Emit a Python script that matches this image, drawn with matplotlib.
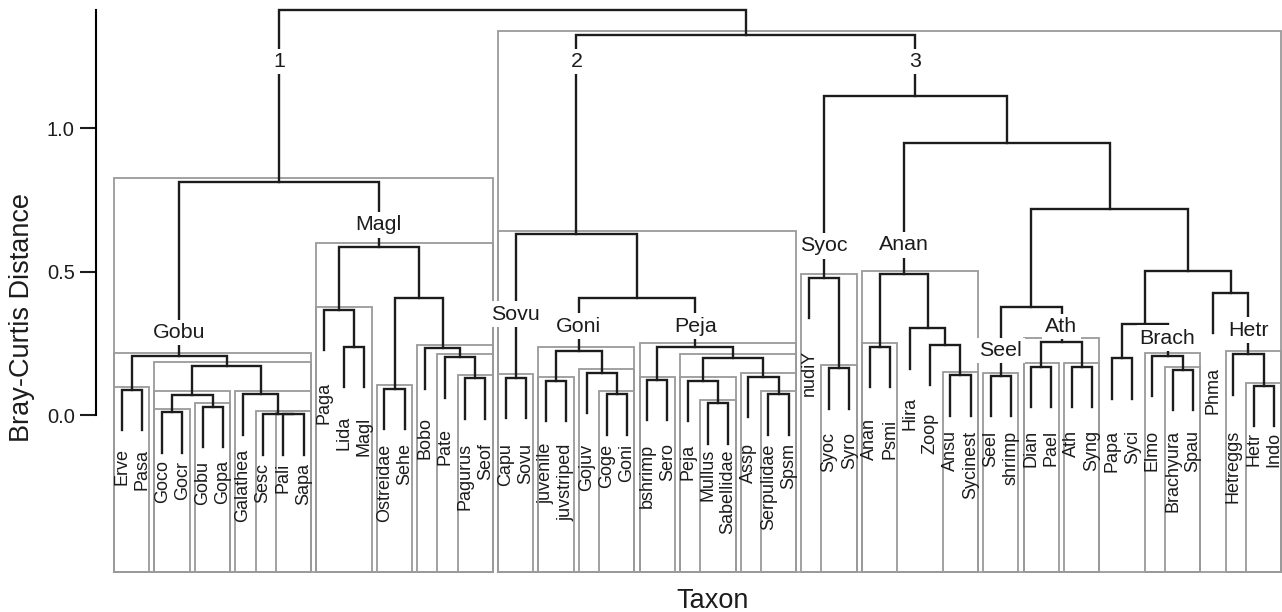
import matplotlib.pyplot as plt
from matplotlib.patches import Rectangle

plt.rcParams['font.family'] = ['Liberation Sans', 'DejaVu Sans']

# leaves in plotting order
leaves = ['Erve', 'Pasa', 'Goco', 'Gocr', 'Gobu', 'Gopa', 'Galathea', 'Sesc', 'Pali', 'Sapa',
          'Paga', 'Lida', 'Magl', 'Ostreidae', 'Sehe', 'Bobo', 'Pate', 'Pagurus', 'Seof',
          'Capu', 'Sovu', 'juvenile', 'juvstriped', 'Gojuv', 'Goge', 'Goni',
          'bshrimp', 'Sero', 'Peja', 'Mullus', 'Sabellidae', 'Assp', 'Serpulidae', 'Spsm',
          'nudiY', 'Syoc', 'Syro', 'Anan', 'Psmi', 'Hira', 'Zoop', 'Ansu', 'Sycinest',
          'Seel', 'shrimp', 'Dian', 'Pael', 'Ath', 'Syng', 'Papa', 'Syci',
          'Elmo', 'Brachyura', 'Spau', 'Phma', 'Hetreggs', 'Hetr', 'Indo']

# hclust style merges: negative = leaf (1-based), positive = earlier merge (1-based)
merge_a = [-9, -8, -3, -5, -7, 3, 6, -1, 8, -12, -11, -14, -18, -17, -16, 12, 11, 9,
           -20, -22, -25, -24, 20, -27, -30, -29, -33, -32, 26, 24, 23, 19,
           -36, -35, -38, -42, -41, -40, 35, -44, -46, -48, 41, 40, -50, -53, -52, 45,
           -57, -56, -55, 48, 44, 39, 34, 32, 18]
merge_b = [-10, 1, -4, -6, 2, 4, 5, -2, 7, -13, 10, -15, -19, 13, 14, 15, 16, 17,
           -21, -23, -26, 21, 22, -28, -31, 25, -34, 27, 28, 29, 30, 31,
           -37, 33, -39, -43, 36, 37, 38, -45, -47, -49, 42, 43, -51, -54, 46, 47,
           -58, 49, 50, 51, 52, 53, 54, 55, 56]
merge_h = [0.002, 0.003, 0.009, 0.029, 0.072, 0.071, 0.172, 0.087, 0.206, 0.238, 0.366,
           0.091, 0.128, 0.201, 0.233, 0.407, 0.587, 0.814,
           0.130, 0.119, 0.073, 0.148, 0.224, 0.122, 0.041, 0.119, 0.072, 0.134, 0.200,
           0.238, 0.408, 0.630,
           0.163, 0.479, 0.238, 0.138, 0.244, 0.303, 0.492, 0.136, 0.168, 0.168, 0.255,
           0.376, 0.198, 0.157, 0.206, 0.318, 0.101, 0.212, 0.427, 0.501, 0.718, 0.950,
           1.114, 1.327, 1.413]

# merges that get a grey box
boxed = [1, 2, 3, 4, 5, 6, 7, 8, 9, 11, 12, 13, 14, 15, 17, 18,
         19, 20, 21, 22, 23, 24, 25, 26, 27, 28, 29, 30, 32,
         33, 34, 35, 36, 39, 40, 41, 42, 43, 46, 47, 49, 50, 56]

# branch labels
group_nodes = [18, 32, 55, 9, 17, 19, 23, 30, 34, 39, 40, 43, 47, 50]
group_names = ['1', '2', '3', 'Gobu', 'Magl', 'Sovu', 'Goni', 'Peja', 'Syoc', 'Anan',
               'Seel', 'Ath', 'Brach', 'Hetr']
group_h = [1.232, 1.232, 1.232, 0.288, 0.663, 0.352, 0.310, 0.310, 0.590, 0.593,
           0.224, 0.308, 0.268, 0.296]

# top of each leaf label (data units)
label_top = [-0.116, -0.119, -0.157, -0.159, -0.160, -0.157, -0.119, -0.168, -0.168, -0.166,
             0.116, -0.003, -0.006, -0.099, -0.099, -0.008, -0.046, -0.097, -0.097,
             -0.099, -0.099, -0.097, -0.101, -0.101, -0.101, -0.101,
             -0.099, -0.099, -0.099, -0.116, -0.120, -0.099, -0.099, -0.099,
             0.227, -0.058, -0.058, -0.012, -0.012, 0.064, 0.006, -0.052, -0.056,
             -0.056, -0.056, -0.052, -0.052, -0.052, -0.052, -0.052, -0.052,
             -0.052, -0.052, -0.052, 0.168, -0.052, -0.058, -0.058]

hang = 0.141
box_bottom = -0.549

fig = plt.figure(figsize=(12.82, 6.12), dpi=100)
ax = fig.add_axes([0, 0, 1, 1])
ax.set_xlim(-6.022, 57.41)
ax.set_ylim(-0.6871, 1.4475)

# node positions
node_x, node_lo, node_hi = [], [], []
def info(c):
    if c < 0:
        return -c - 1, -c - 1, -c - 1, None
    return node_x[c - 1], node_lo[c - 1], node_hi[c - 1], merge_h[c - 1]

for a, b, h in zip(merge_a, merge_b, merge_h):
    xa, loa, hia, ha = info(a)
    xb, lob, hib, hb = info(b)
    node_x.append((xa + xb) / 2)
    node_lo.append(min(loa, lob))
    node_hi.append(max(hia, hib))
    ya = h - hang if ha is None else ha
    yb = h - hang if hb is None else hb
    ax.plot([xa, xa, xb, xb], [ya, h, h, yb], color='#1c1c1c', lw=1.7,
            solid_joinstyle='miter', zorder=3)

for k in boxed:
    lo, hi = node_lo[k - 1], node_hi[k - 1]
    top = merge_h[k - 1] + 0.012
    ax.add_patch(Rectangle((lo - 0.38, box_bottom), hi - lo + 0.75, top - box_bottom,
                           fill=False, ec='#9a9a9a', lw=1.3, zorder=2))

for i, name in enumerate(leaves):
    ax.text(i, label_top[i], name, rotation=90, ha='center', va='top',
            fontsize=13, color='#1c1c1c', zorder=4)

for k, name, gh in zip(group_nodes, group_names, group_h):
    ax.text(node_x[k - 1], gh, name, ha='center', va='center', fontsize=15.4,
            color='#1c1c1c', zorder=5,
            bbox=dict(boxstyle='square,pad=0.15', fc='white', ec='none'))

# y axis
for s in ['top', 'right', 'bottom']:
    ax.spines[s].set_visible(False)
ax.spines['left'].set_position(('data', -1.257))
ax.spines['left'].set_bounds(0, 1.413)
ax.spines['left'].set_linewidth(1.5)
ax.set_yticks([0, 0.5, 1.0])
ax.set_yticklabels(['0.0', '0.5', '1.0'])
ax.tick_params(axis='y', length=11.5, width=1.5, labelsize=14.5, pad=4, colors='#1c1c1c')
ax.set_xticks([])

fig.text(22.5 / 1282, 1 - 318 / 612, 'Bray-Curtis Distance', rotation=90,
         ha='center', va='center', fontsize=19.5, color='#1c1c1c')
fig.text(712.5 / 1282, 1 - 608 / 612, 'Taxon', ha='center', va='baseline',
         fontsize=19.5, color='#1c1c1c')

fig.savefig('out.png', dpi=100)
